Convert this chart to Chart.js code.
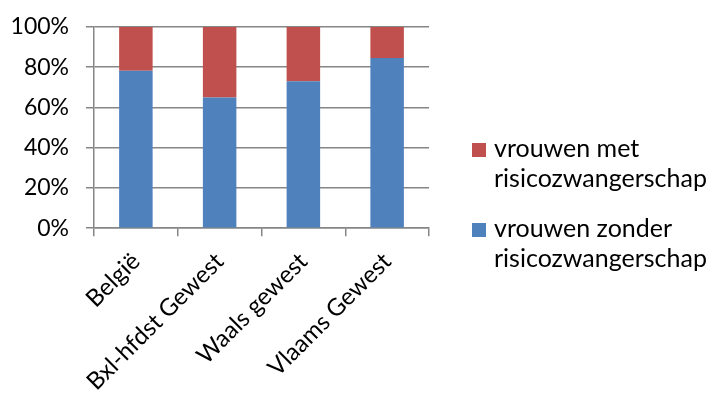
<!DOCTYPE html>
<html>
<head>
<meta charset="utf-8">
<script src="https://cdn.jsdelivr.net/npm/chart.js@4.4.1/dist/chart.umd.min.js"></script>
<style>
  html, body { margin: 0; padding: 0; background: #fff; }
  #wrap { width: 708px; height: 404px; }
</style>
</head>
<body>
<div id="wrap"><canvas id="chartRisico"></canvas></div>
<script>
const regions = ['België', 'Bxl-hfdst Gewest', 'Waals gewest', 'Vlaams Gewest'];
const zonderRisico = [78.2, 65.0, 73.0, 84.6];
const metRisico = [21.8, 35.0, 27.0, 15.4];
const yTicks = [0, 20, 40, 60, 80, 100];
const seriesNames = ['vrouwen zonder risicozwangerschap', 'vrouwen met risicozwangerschap'];

const FONT = 'Lato, "Open Sans", sans-serif';
const gridGray = '#868686';

// legend drawn next to the plot, two lines per item like the original
const sideLegend = {
  id: 'sideLegend',
  afterDraw(chart) {
    const ctx = chart.ctx;
    const area = chart.chartArea;
    const x = area.right + 43;
    let y = chart.height / 2 - 45;
    ctx.save();
    ctx.font = '25px ' + FONT;
    ctx.textBaseline = 'alphabetic';
    const sets = chart.data.datasets.slice().reverse();
    sets.forEach((ds) => {
      const cut = ds.label.lastIndexOf(' ');
      const lines = [ds.label.slice(0, cut), ds.label.slice(cut + 1)];
      ctx.fillStyle = ds.backgroundColor;
      ctx.fillRect(x, y - 14, 14, 14);
      ctx.fillStyle = '#000';
      lines.forEach((line, i) => {
        ctx.fillText(line, x + 22, y + i * 30);
      });
      y += 80;
    });
    ctx.restore();
  },
};

const ctx = document.getElementById('chartRisico');
const riskChart = new Chart(ctx, {
  type: 'bar',
  data: {
    labels: regions,
    datasets: [
      {
        label: seriesNames[0],
        data: zonderRisico,
        backgroundColor: '#4F81BD',
        barPercentage: 0.4,
        categoryPercentage: 1,
      },
      {
        label: seriesNames[1],
        data: metRisico,
        backgroundColor: '#C0504D',
        barPercentage: 0.4,
        categoryPercentage: 1,
      },
    ],
  },
  options: {
    responsive: true,
    maintainAspectRatio: false,
    animation: false,
    layout: {
      padding: { left: 10, right: 279, top: 0, bottom: 0 },
    },
    plugins: {
      legend: { display: false },
      tooltip: { enabled: false },
    },
    scales: {
      x: {
        stacked: true,
        afterFit: (axis) => {
          axis.height -= 3;
        },
        grid: {
          offset: true,
          drawOnChartArea: false,
          color: gridGray,
          tickLength: 8,
          lineWidth: 1.5,
        },
        border: { color: gridGray, width: 1.5 },
        ticks: {
          color: '#000',
          font: { family: FONT, size: 24 },
          maxRotation: 45,
          minRotation: 45,
          padding: 11,
        },
      },
      y: {
        stacked: true,
        min: 0,
        max: 100,
        afterBuildTicks: (axis) => {
          axis.ticks = yTicks.map((v) => ({ value: v }));
        },
        afterFit: (axis) => {
          axis.width = 84;
          axis.paddingTop = 27;
        },
        grid: {
          color: gridGray,
          tickLength: 8,
          lineWidth: 1.5,
        },
        border: { color: gridGray, width: 1.5 },
        ticks: {
          color: '#000',
          font: { family: FONT, size: 23 },
          padding: 17,
          callback: (v) => v + '%',
        },
      },
    },
  },
  plugins: [sideLegend],
});
</script>
</body>
</html>
